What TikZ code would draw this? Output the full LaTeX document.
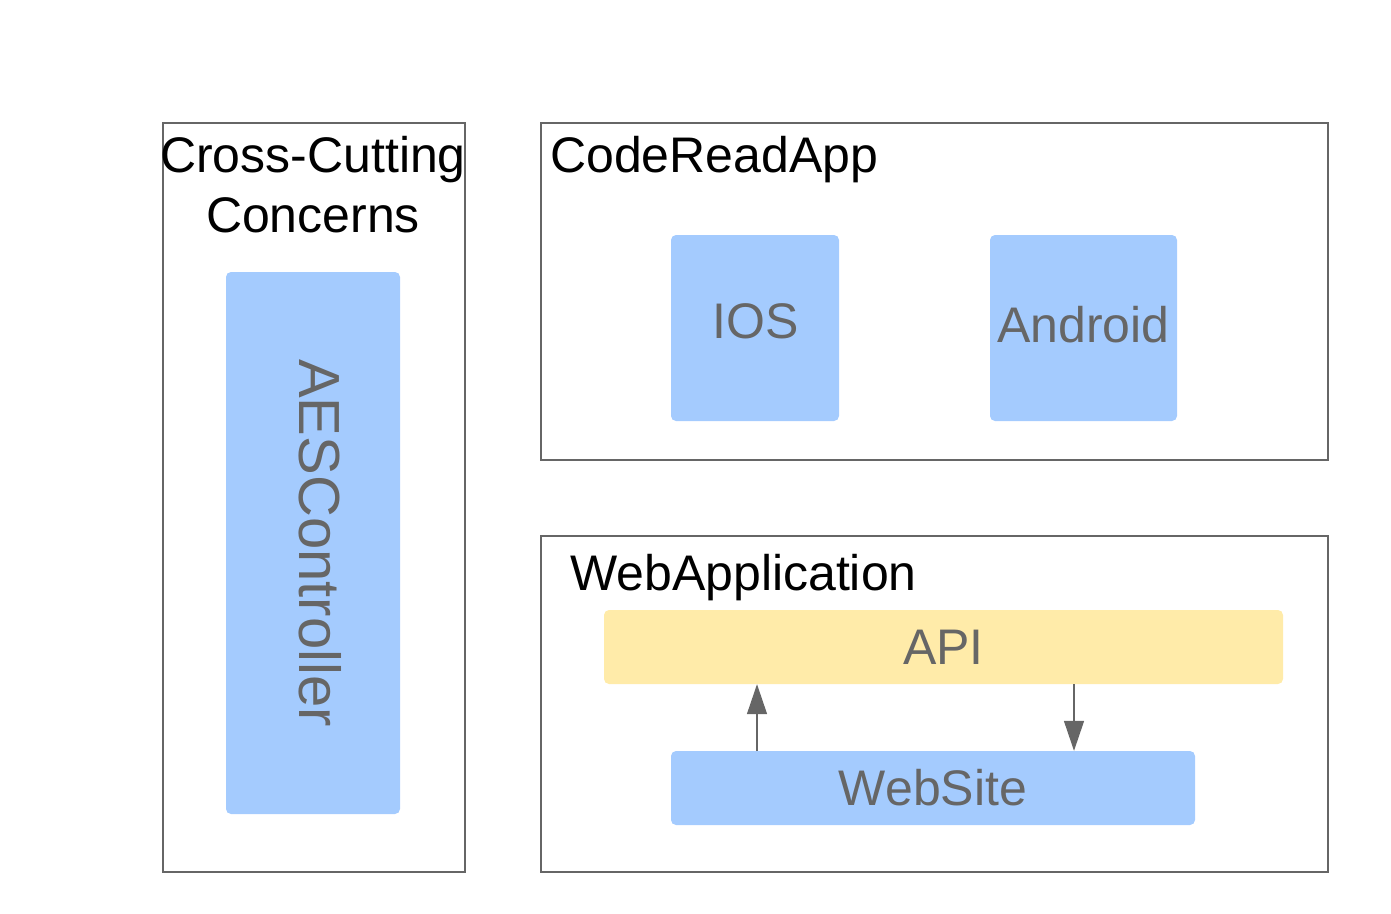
\documentclass[tikz,border=0pt]{standalone}
\usepackage{fontspec}
\setmainfont{Liberation Sans}
\usetikzlibrary{arrows.meta,positioning,calc}

\definecolor{boxblue}{HTML}{A4CBFE}
\definecolor{boxyellow}{HTML}{FFEBA9}
\definecolor{linegray}{HTML}{666666}

\begin{document}
\begin{tikzpicture}[x=1pt, y=-1pt, >={Triangle[width=20pt,length=30pt]},
	every node/.style={font=\fontsize{50}{60}\selectfont, inner sep=0pt},
	group/.style={draw=linegray, line width=1.5pt, rectangle, anchor=north west},
	block/.style={fill=boxblue, rounded corners=5pt, rectangle, text=linegray},
	flow/.style={draw=linegray, line width=1.5pt, ->}]
	
	% canvas
	\useasboundingbox (0,0) rectangle (1391,913);
	
	% outer groups
	\node[group, minimum width=302pt, minimum height=749pt] (cross) at (162,122) {};
	\node[group, minimum width=787pt, minimum height=337pt] (app) at (540,122) {};
	\node[group, minimum width=787pt, minimum height=336pt] (web) at (540,535) {};
	
	% titles
	\node[align=center, anchor=base] (crosstitle) at (313,232) {Cross-Cutting\\Concerns};
	\node[anchor=base west] (apptitle) at (550,172) {CodeReadApp};
	\node[anchor=base west] (webtitle) at (570,590) {WebApplication};
	
	% blocks
	\node[block, minimum width=174pt, minimum height=542pt] (aes) at (313,543) {};
	\node[rotate=-90, text=linegray, font=\fontsize{58}{60}\selectfont] at ($(aes.center)+(7,0)$) {AESController};
	\node[block, minimum width=168pt, minimum height=186pt] (ios) at (755,328) {};
	\node[text=linegray] at ($(ios.center)+(1,-7)$) {IOS};
	\node[block, minimum width=187pt, minimum height=186pt] (android) at (1083.5,328) {};
	\node[text=linegray] at ($(android.center)+(0,-3)$) {Android};
	\node[block, fill=boxyellow, minimum width=679pt, minimum height=74pt] (api) at (943.5,647) {API};
	\node[block, minimum width=524pt, minimum height=74pt] (site) at (933,788) {WebSite};
	
	% calls between website and api
	\draw[flow] (site.north -| 757,0) -- (api.south -| 757,0);
	\draw[flow] (api.south -| 1074,0) -- (site.north -| 1074,0);
\end{tikzpicture}
\end{document}
